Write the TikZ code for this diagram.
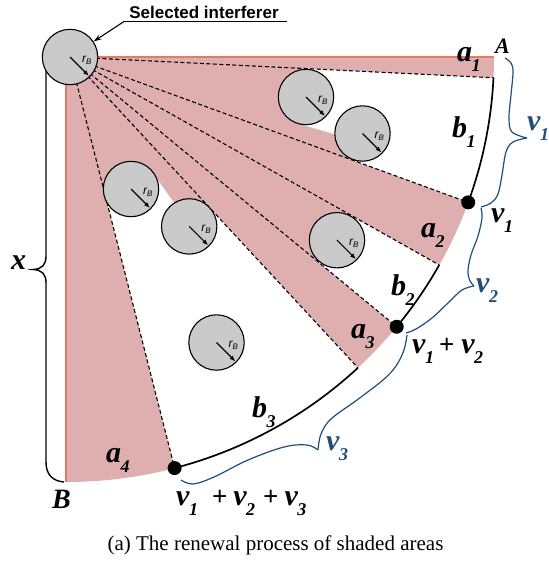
\documentclass[tikz,border=0pt]{standalone}
\usepackage{fontspec}
\setmainfont{Liberation Serif}
\setsansfont{Liberation Sans}
\usetikzlibrary{calc,arrows.meta}
\definecolor{pinkfill}{RGB}{223,175,175}
\definecolor{edgered}{RGB}{226,122,102}
\definecolor{circgray}{RGB}{202,202,202}
\definecolor{braceblue}{RGB}{31,78,121}
\newcommand{\lbl}[2]{#1\kern-0.5pt\raisebox{-10.5pt}{\fontsize{18}{18}\selectfont #2}}
\newcommand{\plussign}{{\upshape\fontsize{27}{27}\selectfont +}}
\newcommand{\drawobst}[2]{%
  \node[obst] (#1) at (#2) {};
  \draw[rarrow] (#2) -- ++(19,19);
  \node[rlab] at ($(#2)+(17,3)$) {r\textsubscript{B}};}
\begin{document}
\begin{tikzpicture}[x=1pt,y=-1pt,
  obst/.style={circle,draw=black,line width=1.1pt,fill=circgray,minimum size=55.4pt,inner sep=0},
  rarrow/.style={-{Latex[length=6pt,width=4.5pt]},line width=1.1pt},
  rlab/.style={font=\sffamily\itshape\fontsize{12}{12}\selectfont,inner sep=0},
  dashline/.style={dash pattern=on 4pt off 2.5pt,line width=1.1pt},
  arcline/.style={line width=1.7pt},
  dotnode/.style={circle,fill=black,minimum size=14pt,inner sep=0},
  lab/.style={font=\fontsize{30}{32}\selectfont\bfseries\itshape,inner sep=0,anchor=base west},
  bluelab/.style={lab,text=braceblue},
  bracebl/.style={draw=braceblue,line width=1.2pt},
  bracebk/.style={draw=black,line width=1.4pt},
  edge/.style={draw=edgered,line width=1.6pt}]
\useasboundingbox (0,0) rectangle (549,568);
% key coordinates
\coordinate (O) at (66,57);
\coordinate (S) at (70,57);
\coordinate (A0) at ($(O)+(0:428 and 425)$);
\coordinate (B0) at ($(O)+(90:428 and 425)$);
\coordinate (E1) at ($(O)+(2.8:428 and 425)$);
\coordinate (D1) at ($(O)+(20:428 and 425)$);
\coordinate (E3) at ($(O)+(29.3:428 and 425)$);
\coordinate (D2) at ($(O)+(39.4:428 and 425)$);
\coordinate (E5) at ($(O)+(47:428 and 425)$);
\coordinate (D3) at ($(O)+(75.3:428 and 425)$);
\coordinate (c0) at (70,57);
\coordinate (c1) at (306,97);
\coordinate (c2) at (362.5,133.5);
\coordinate (c3) at (131,189);
\coordinate (c4) at (189.2,226.4);
\coordinate (c5) at (337,240.2);
\coordinate (c6) at (216.5,342.5);
% pink quarter area
\fill[pinkfill] (O) -- (A0) arc[start angle=0,end angle=90,x radius=428,y radius=425] -- cycle;
% white shadow regions
\fill[white] (c1) -- ($(S)!(c1)!(E1)$) -- (E1) arc[start angle=2.8,end angle=20,x radius=428,y radius=425]
  -- ($(S)!(c2)!(D1)$) -- (c2) -- (334.6,134.2) -- (298.3,123.6) -- cycle;
\fill[white] (c5) -- ($(S)!(c5)!(E3)$) -- (E3) arc[start angle=29.3,end angle=39.4,x radius=428,y radius=425]
  -- ($(S)!(c5)!(D2)$) -- cycle;
\fill[white] (c4) -- ($(S)!(c4)!(E5)$) -- (E5) arc[start angle=47,end angle=75.3,x radius=428,y radius=425]
  -- ($(S)!(c3)!(D3)$) -- (c3) -- (153.4,174) -- (174.4,203.3) -- cycle;
% red edges
\draw[edge] (A0) -- (O) -- (B0);
% dashed rays
\foreach \p in {E1,D1,E3,D2,E5,D3} \draw[dashline] (S) -- (\p);
% black arcs
\draw[arcline] (E1) arc[start angle=2.8,end angle=20,x radius=428,y radius=425];
\draw[arcline] (E3) arc[start angle=29.3,end angle=39.4,x radius=428,y radius=425];
\draw[arcline] (E5) arc[start angle=47,end angle=75.3,x radius=428,y radius=425];
% x brace (black)
\draw[bracebk] (64,482) .. controls (52,481) and (46,474) .. (46,462) -- (46,283)
  .. controls (46,274) and (42,270) .. (33,269.5) .. controls (42,269) and (46,265) .. (46,256)
  -- (46,72) .. controls (46,62) and (52,56) .. (60,55);
% obstacles
\drawobst{C0}{c0}
\drawobst{C1}{c1}
\drawobst{C2}{c2}
\drawobst{C3}{c3}
\drawobst{C4}{c4}
\drawobst{C5}{c5}
\drawobst{C6}{c6}
% dots
\node[dotnode] (d1) at (D1) {};
\node[dotnode] (d2) at (D2) {};
\node[dotnode] (d3) at (D3) {};
% blue braces
\draw[bracebl] plot[smooth,tension=0.6] coordinates {(505,58) (511,63) (513,72) (511,95) (509,118) (512,132) (527,138)};
\draw[bracebl] plot[smooth,tension=0.6] coordinates {(527,138) (513,142) (506,152) (502,175) (498,194) (491,203) (481,207)};
\draw[bracebl] plot[smooth,tension=0.6] coordinates {(481,208) (482,218) (478,236) (471,255) (468,271) (470,281) (474,286)};
\draw[bracebl] plot[smooth,tension=0.6] coordinates {(474,286) (462,290) (449,302) (432,318) (416,329) (406,333)};
\draw[bracebl] plot[smooth,tension=0.6] coordinates {(407,335) (404,350) (396,366) (383,380) (357,400) (331,419) (321,434) (318,450)};
\draw[bracebl] plot[smooth,tension=0.6] coordinates {(318,450) (307,445) (284,447) (248,460) (214,477) (193,484) (181,480)};
% selected interferer
\node[font=\sffamily\bfseries\fontsize{17}{17}\selectfont,inner sep=0,anchor=base] (sel) at (204,18.3) {Selected interferer};
\coordinate (ul1) at (124,21.5);
\coordinate (ul2) at (287,21.5);
\draw[line width=1.4pt] (ul2) -- (ul1);
\draw[line width=1.1pt,-{Stealth[length=8pt,width=5pt]}] (ul1) -- (C0);
% labels
\node[lab] (la1) at (457,61) {\lbl{a}{1}};
\node[lab] (lb1) at (452,137) {\lbl{b}{1}};
\node[lab] (la2) at (421,237) {\lbl{a}{2}};
\node[lab] (lb2) at (391,295) {\lbl{b}{2}};
\node[lab] (la3) at (351,338) {\lbl{a}{3}};
\node[lab] (lb3) at (252,417) {\lbl{b}{3}};
\node[lab] (la4) at (106,462) {\lbl{a}{4}};
\node[bluelab] (v1b) at (527,130) {\lbl{v}{1}};
\node[lab] (v1k) at (491,222) {\lbl{v}{1}};
\node[bluelab] (v2b) at (476,292) {\lbl{v}{2}};
\node[lab] (v12) at (412,353) {\lbl{v}{1}\hspace{5pt}\plussign\hspace{7pt}\lbl{v}{2}};
\node[bluelab] (v3b) at (326,450) {\lbl{v}{3}};
\node[lab] (v123) at (176,505) {\lbl{v}{1}\hspace{14pt}\plussign\hspace{6pt}\lbl{v}{2}\hspace{8pt}\plussign\hspace{6pt}\lbl{v}{3}};
\node[lab] (lx) at (11,269) {x};
\node[lab,font=\fontsize{28}{30}\selectfont\bfseries\itshape] (lB) at (52,508) {B};
\node[lab,font=\fontsize{22}{24}\selectfont\bfseries\itshape] (lA) at (495,53) {A};
% caption
\node[font=\fontsize{21}{24}\selectfont,anchor=base,inner sep=0] (cap) at (275.5,550) {(a) The renewal process of shaded areas};
\end{tikzpicture}
\end{document}
